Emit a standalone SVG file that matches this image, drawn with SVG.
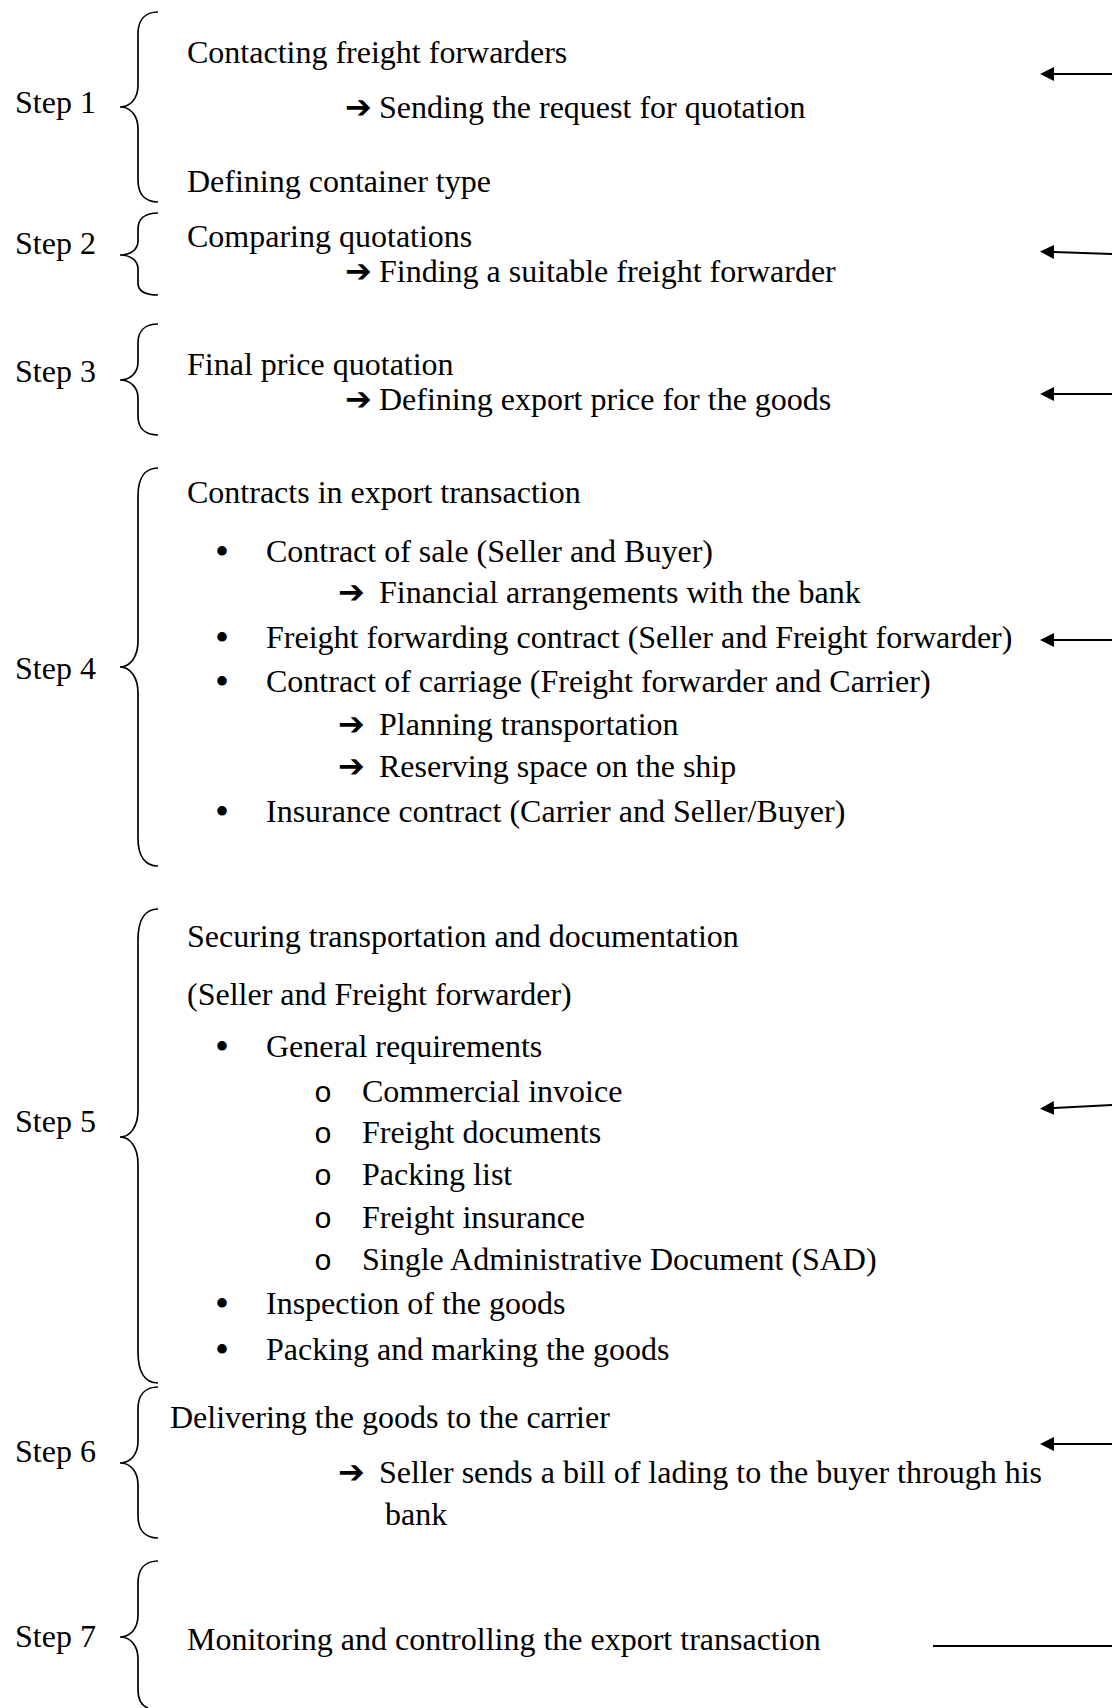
<svg xmlns="http://www.w3.org/2000/svg" width="1112" height="1708" viewBox="0 0 1112 1708">
<style>
text{font-family:"Liberation Serif","Times New Roman",serif;font-size:32px;fill:#000}
.ar{font-family:"DejaVu Sans",sans-serif;font-size:32px;font-weight:bold}
.bu{font-size:40px}
.ob{font-family:"Liberation Mono","Courier New",monospace;font-size:30px}
.br{fill:none;stroke:#000;stroke-width:1.7}
.cn{fill:none;stroke:#000;stroke-width:1.8}
</style>
<defs>
<marker id="ahs" viewBox="0 0 10 10" refX="0" refY="5" markerWidth="14" markerHeight="14" orient="auto" markerUnits="userSpaceOnUse">
<path d="M10,5 L0,0 L0,10 Z" fill="#000"/>
</marker>
</defs>
<rect width="1112" height="1708" fill="#fff"/>

<g id="step1">
<text x="15" y="113">Step 1</text>
<path class="br" d="M158,12 C145,12 138,20 138,34 L138,85 C138,99 130,107 120,107 C130,107 138,115 138,129 L138,180 C138,194 145,202 158,202"/>
<text x="187" y="63">Contacting freight forwarders</text>
<text x="345" y="118"><tspan class="ar">➔</tspan><tspan x="379">Sending the request for quotation</tspan></text>
<text x="187" y="192">Defining container type</text>
</g>

<g id="step2">
<text x="15" y="254">Step 2</text>
<path class="br" d="M158,213 C145,213 138,219 138,229 L138,241 C138,250 130,255 120,255 C130,255 138,260 138,269 L138,283 C138,291 145,295 158,295"/>
<text x="187" y="247">Comparing quotations</text>
<text x="345" y="282"><tspan class="ar">➔</tspan><tspan x="379">Finding a suitable freight forwarder</tspan></text>
</g>

<g id="step3">
<text x="15" y="382">Step 3</text>
<path class="br" d="M158,324 C145,324 138,331 138,343 L138,362 C138,373 130,380 120,380 C130,380 138,387 138,398 L138,416 C138,428 145,435 158,435"/>
<text x="187" y="375">Final price quotation</text>
<text x="345" y="410"><tspan class="ar">➔</tspan><tspan x="379">Defining export price for the goods</tspan></text>
</g>

<g id="step4">
<text x="15" y="679">Step 4</text>
<path class="br" d="M158,468 C145,468 138,478 138,496 L138,641 C138,657 130,667 120,667 C130,667 138,677 138,693 L138,838 C138,856 145,866 158,866"/>
<text x="187" y="503">Contracts in export transaction</text>
<text class="bu" x="215" y="565">•</text><text x="266" y="562">Contract of sale (Seller and Buyer)</text>
<text x="338" y="603"><tspan class="ar">➔</tspan><tspan x="379">Financial arrangements with the bank</tspan></text>
<text class="bu" x="215" y="651">•</text><text x="266" y="648">Freight forwarding contract (Seller and Freight forwarder)</text>
<text class="bu" x="215" y="695">•</text><text x="266" y="692">Contract of carriage (Freight forwarder and Carrier)</text>
<text x="338" y="735"><tspan class="ar">➔</tspan><tspan x="379">Planning transportation</tspan></text>
<text x="338" y="777"><tspan class="ar">➔</tspan><tspan x="379">Reserving space on the ship</tspan></text>
<text class="bu" x="215" y="825">•</text><text x="266" y="822">Insurance contract (Carrier and Seller/Buyer)</text>
</g>

<g id="step5">
<text x="15" y="1132">Step 5</text>
<path class="br" d="M158,909 C145,909 138,920 138,940 L138,1110 C138,1127 130,1137 120,1137 C130,1137 138,1147 138,1164 L138,1352 C138,1372 145,1383 158,1383"/>
<text x="187" y="947">Securing transportation and documentation</text>
<text x="187" y="1005">(Seller and Freight forwarder)</text>
<text class="bu" x="215" y="1060">•</text><text x="266" y="1057">General requirements</text>
<text class="ob" x="314" y="1102">o</text><text x="362" y="1102">Commercial invoice</text>
<text class="ob" x="314" y="1143">o</text><text x="362" y="1143">Freight documents</text>
<text class="ob" x="314" y="1185">o</text><text x="362" y="1185">Packing list</text>
<text class="ob" x="314" y="1228">o</text><text x="362" y="1228">Freight insurance</text>
<text class="ob" x="314" y="1270">o</text><text x="362" y="1270">Single Administrative Document (SAD)</text>
<text class="bu" x="215" y="1317">•</text><text x="266" y="1314">Inspection of the goods</text>
<text class="bu" x="215" y="1363">•</text><text x="266" y="1360">Packing and marking the goods</text>
</g>

<g id="step6">
<text x="15" y="1462">Step 6</text>
<path class="br" d="M158,1387 C145,1387 138,1395 138,1409 L138,1441 C138,1455 130,1463 120,1463 C130,1463 138,1471 138,1485 L138,1516 C138,1530 145,1538 158,1538"/>
<text x="170" y="1428">Delivering the goods to the carrier</text>
<text x="338" y="1483"><tspan class="ar">➔</tspan><tspan x="379">Seller sends a bill of lading to the buyer through his</tspan></text>
<text x="385" y="1525">bank</text>
</g>

<g id="step7">
<text x="15" y="1647">Step 7</text>
<path class="br" d="M158,1561 C145,1561 138,1569 138,1583 L138,1615 C138,1629 130,1637 120,1637 C130,1637 138,1645 138,1659 L138,1690 C138,1700 142,1706 148,1708"/>
<text x="187" y="1650">Monitoring and controlling the export transaction</text>
</g>

<g id="connectors">
<line class="cn" x1="1112" y1="74" x2="1054" y2="74" marker-end="url(#ahs)"/>
<line class="cn" x1="1112" y1="254" x2="1054" y2="252" marker-end="url(#ahs)"/>
<line class="cn" x1="1112" y1="394" x2="1054" y2="394" marker-end="url(#ahs)"/>
<line class="cn" x1="1112" y1="640" x2="1054" y2="640" marker-end="url(#ahs)"/>
<line class="cn" x1="1112" y1="1105" x2="1054" y2="1108" marker-end="url(#ahs)"/>
<line class="cn" x1="1112" y1="1444" x2="1054" y2="1444" marker-end="url(#ahs)"/>
<line class="cn" x1="933" y1="1646" x2="1112" y2="1646"/>
</g>
</svg>
